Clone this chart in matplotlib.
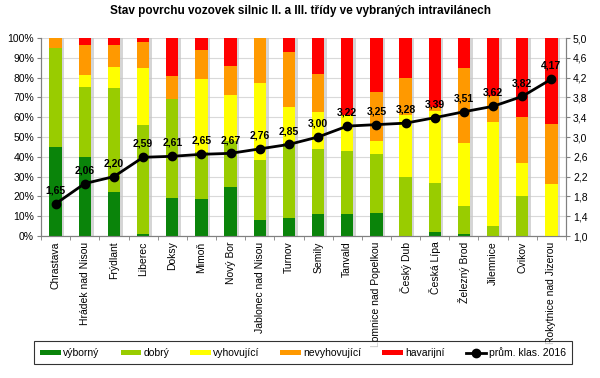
import matplotlib.pyplot as plt
import numpy as np

plt.rcParams['font.family'] = ['Liberation Sans', 'DejaVu Sans']

mesta = ['Chrastava', 'Hrádek nad Nisou', 'Frýdlant', 'Liberec', 'Doksy', 'Mimoň',
         'Nový Bor', 'Jablonec nad Nisou', 'Turnov', 'Semily', 'Tanvald',
         'Lomnice nad Popelkou', 'Český Dub', 'Česká Lípa', 'Železný Brod',
         'Jilemnice', 'Cvikov', 'Rokytnice nad Jizerou']

# podíly v % podle stavu povrchu
vyborny = [45, 40, 22, 1, 19, 18.5, 25, 8, 9, 11, 11, 11.5, 0, 2, 1, 0, 0, 0]
dobry = [50, 35.5, 53, 55, 50, 24, 23, 30.5, 38, 33, 32, 30, 30, 25, 14, 5, 20, 0]
vyhovujici = [0, 6, 10.5, 29, 0, 37, 23, 39, 18, 18.5, 18, 6.5, 31, 36, 32, 52.5, 17, 26.5]
nevyhovujici = [5, 15, 11, 13, 12, 14.5, 15, 22.5, 28, 19.5, 0, 24.5, 19, 2, 38, 13, 23, 30]
havarijni = [0, 3.5, 3.5, 2, 19, 6, 14, 0, 7, 18, 39, 27.5, 20, 35, 15, 29.5, 40, 43.5]

prum_klas = [1.65, 2.06, 2.20, 2.59, 2.61, 2.65, 2.67, 2.76, 2.85, 3.00, 3.22, 3.25,
             3.28, 3.39, 3.51, 3.62, 3.82, 4.17]

serie = [('výborný', vyborny, '#0a840a'),
         ('dobrý', dobry, '#99cc00'),
         ('vyhovující', vyhovujici, '#ffff00'),
         ('nevyhovující', nevyhovujici, '#ff9900'),
         ('havarijní', havarijni, '#ff0000')]

fig = plt.figure(figsize=(6, 3.78), dpi=100)
ax = fig.add_axes([41 / 600, 1 - 236 / 378, 525 / 600, 198 / 378])
x = np.arange(len(mesta))
w = 0.42

total = np.sum([s[1] for s in serie], axis=0)
# stín sloupců
ax.bar(x + 0.09, total, w, color='#c4c4c4', alpha=0.7, zorder=2, lw=0)

bottom = np.zeros(len(mesta))
handles = []
for name, vals, col in serie:
    vals = np.array(vals, dtype=float)
    b = ax.bar(x, vals, w, bottom=bottom, color=col, label=name, zorder=3, lw=0)
    handles.append(b)
    bottom += vals

ax.set_xlim(-0.5, len(mesta) - 0.5)
ax.set_ylim(0, 100)
ax.set_yticks(np.arange(0, 101, 10))
ax.set_yticklabels([f'{v}%' for v in range(0, 101, 10)], fontsize=7.5)
ax.yaxis.grid(True, color='#d9d9d9', lw=0.8, zorder=0)
ax.set_xticks(x)
ax.set_xticklabels(mesta, rotation=90, fontsize=7.5)
ax.set_xticks(np.arange(-0.5, len(mesta), 1), minor=True)
ax.tick_params(axis='x', which='major', length=0, pad=4)
ax.tick_params(axis='x', which='minor', length=3, color='#808080')
ax.tick_params(axis='y', length=3, color='#808080', pad=2)
for s in ax.spines.values():
    s.set_color('#808080')
ax.spines['top'].set_visible(False)

ax2 = ax.twinx()
ax2.set_ylim(1.0, 5.0)
ax2.set_yticks(np.arange(1.0, 5.01, 0.4))
ax2.set_yticklabels([f'{v:.1f}'.replace('.', ',') for v in np.arange(1.0, 5.01, 0.4)], fontsize=7.5)
ax2.tick_params(axis='y', length=3, color='#808080', pad=2)
for s in ax2.spines.values():
    s.set_color('#808080')
ax2.spines['top'].set_visible(False)
line, = ax2.plot(x, prum_klas, color='black', lw=2, marker='o', ms=6, zorder=5,
                 label='prům. klas. 2016')
for xi, v in zip(x, prum_klas):
    ax2.annotate(f'{v:.2f}'.replace('.', ','), (xi, v), xytext=(0, 6),
                 textcoords='offset points', ha='center', va='bottom',
                 fontsize=7.5, fontweight='bold')

fig.text(0.5, 1 - 11 / 378, 'Stav povrchu vozovek silnic II. a III. třídy ve vybraných intravilánech',
         ha='center', va='center', fontsize=8.5, fontweight='bold')

leg = fig.legend(handles + [line], [s[0] for s in serie] + ['prům. klas. 2016'],
                 loc='center', bbox_to_anchor=(28 / 600, 1 - 365 / 378, 550 / 600, 25 / 378),
                 ncol=6, fontsize=7.5, frameon=True, fancybox=False, edgecolor='black',
                 handlelength=2.0, handleheight=0.35, columnspacing=2.0, handletextpad=0.2,
                 borderaxespad=0, borderpad=0.6)
leg.get_frame().set_linewidth(0.8)

fig.savefig('out.png', dpi=100)
